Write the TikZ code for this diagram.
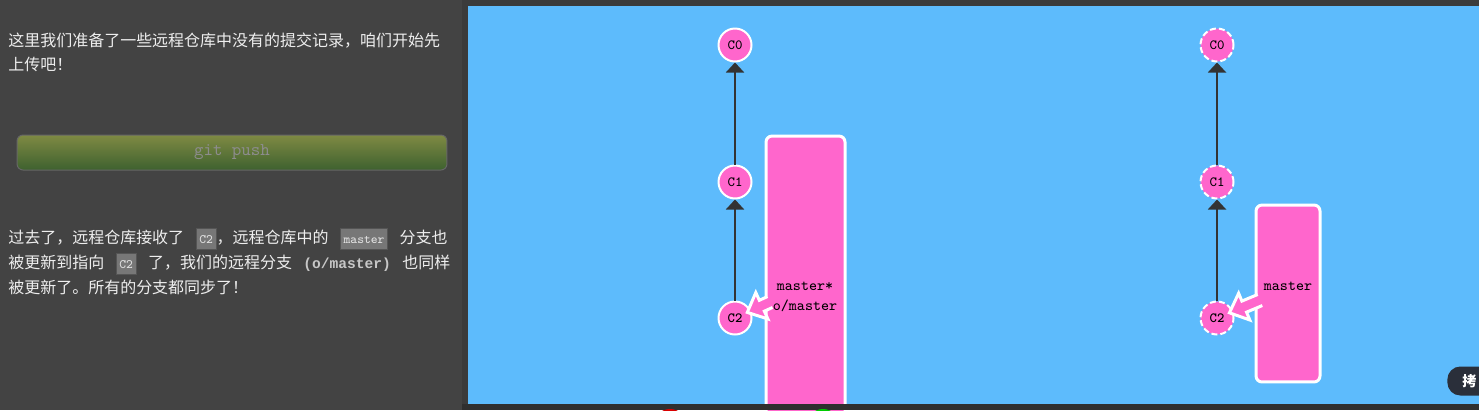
\documentclass[tikz,border=0pt]{standalone}
\usepackage{fontspec}
\newfontfamily\cjk{Noto Sans CJK SC}
\newfontfamily\monob{Liberation Mono}
\usetikzlibrary{arrows.meta,calc,positioning}

\definecolor{pagebg}{HTML}{434343}
\definecolor{shadowbg}{HTML}{3B3B3B}
\definecolor{stripbg}{HTML}{2F2F2F}
\definecolor{panelblue}{HTML}{5DBBFC}
\definecolor{gitpink}{HTML}{FF66CC}
\definecolor{linkgray}{HTML}{333333}
\definecolor{textlight}{HTML}{EEEEEE}
\definecolor{codebg}{HTML}{777777}
\definecolor{codeedge}{HTML}{555555}
\definecolor{codefg}{HTML}{E2E2E2}
\definecolor{btntop}{HTML}{7F8A43}
\definecolor{btnbottom}{HTML}{3E612F}
\definecolor{btntext}{HTML}{8C8C8C}
\definecolor{copybg}{HTML}{2A2F3A}

\newcommand{\gap}{\hspace{6.5pt}}
\newcommand{\code}[1]{{\setlength{\fboxsep}{1.6pt}\setlength{\fboxrule}{0.5pt}%
  \fcolorbox{codeedge}{codebg}{\rule[-2pt]{0pt}{8.5pt}\textcolor{codefg}{\ttfamily\fontsize{7.3pt}{8pt}\selectfont #1}}}}
% fat pink pointer from a branch box to a commit
\newcommand{\branchptr}[2]{%
  \coordinate (pt) at ($(#2)!0.27cm!(#1)$);
  \coordinate (pb) at ($(pt)!0.32cm!(#1)$);
  \filldraw[ptrshape] ($(#1)!0.12cm!90:(pt)$) -- ($(pb)!0.12cm!90:(pt)$)
    -- ($(pb)!0.29cm!90:(pt)$) -- (pt) -- ($(pb)!0.29cm!-90:(pt)$)
    -- ($(pb)!0.12cm!-90:(pt)$) -- ($(#1)!0.12cm!-90:(pt)$);
}

\begin{document}
\begin{tikzpicture}[x=0.02cm, y=-0.02cm,
    txt/.style={anchor=base west, inner sep=0pt, text=textlight,
      font=\cjk\fontsize{9.1pt}{11pt}\selectfont},
    commit/.style={circle, fill=gitpink, draw=white, line width=0.04cm,
      minimum size=0.66cm, inner sep=0pt, text=black,
      font=\ttfamily\fontsize{8pt}{9pt}\selectfont},
    ghost/.style={commit, dash pattern=on 0.12cm off 0.06cm},
    parentlink/.style={draw=linkgray, line width=0.04cm,
      -{Triangle[width=0.36cm,length=0.2cm]}},
    branchbox/.style={rectangle, rounded corners=0.12cm, fill=gitpink,
      draw=white, line width=0.06cm, inner sep=0pt},
    branchlabel/.style={inner sep=0pt, text=black,
      font=\ttfamily\fontsize{8.7pt}{10pt}\selectfont},
    ptrshape/.style={fill=gitpink, draw=white, line width=0.06cm,
      line join=miter},
    gobutton/.style={rectangle, rounded corners=0.12cm, top color=btntop,
      bottom color=btnbottom, draw=black!60, line width=0.02cm,
      minimum width=8.6cm, minimum height=0.7cm, text=btntext,
      font=\ttfamily\fontsize{10.3pt}{11pt}\selectfont},
    copybtn/.style={rectangle, rounded corners=0.26cm, fill=copybg,
      anchor=west, minimum height=0.58cm, text width=1.2cm, align=left,
      inner xsep=0.3cm, text=white, font=\cjk\bfseries\fontsize{8pt}{9pt}\selectfont}]

  \useasboundingbox (0,0) rectangle (1479,410);
  \fill[pagebg] (0,0) rectangle (1479,410);
  \fill[shadowbg] (462,0) rectangle (1479,410);
  \fill[panelblue] (468,6) rectangle (1479,404);

  % left column
  \node[txt] (intro1) at (8,46) {这里我们准备了一些远程仓库中没有的提交记录，咱们开始先};
  \node[txt] (intro2) at (8,70) {上传吧！};
  \node[gobutton] (push) at (232,152.5) {git push};
  \node[txt] (after1) at (8,243)
    {过去了，远程仓库接收了\gap\code{C2}，远程仓库中的\gap\code{master}\gap 分支也};
  \node[txt] (after2) at (8,268)
    {被更新到指向\gap\code{C2}\gap 了，我们的远程分支\gap{\monob\bfseries\fontsize{8.3pt}{10pt}\selectfont\color{black!22}(o/master)}\gap 也同样};
  \node[txt] (after3) at (8,293) {被更新了。所有的分支都同步了！};

  % local repository
  \node[commit] (c0) at (735,45) {C0};
  \node[commit] (c1) at (735,182) {C1};
  \node[commit, font=\ttfamily\bfseries\fontsize{8pt}{9pt}\selectfont] (c2) at (735,318) {C2};
  \draw[parentlink] (c1) -- (c0);
  \draw[parentlink] (c2) -- (c1);
  \node[branchbox, minimum width=1.58cm, minimum height=5.68cm] (lbox) at (805.5,278) {};
  \node[branchlabel] (lmaster) at (805,286) {master*};
  \node[branchlabel] (lorigin) at (805,306) {o/master};
  \coordinate (lfrom) at (770,302);
  \branchptr{lfrom}{c2}

  % remote repository
  \node[ghost] (r0) at (1217,45) {C0};
  \node[ghost] (r1) at (1217,182) {C1};
  \node[ghost, font=\ttfamily\bfseries\fontsize{8pt}{9pt}\selectfont] (r2) at (1217,318) {C2};
  \draw[parentlink] (r1) -- (r0);
  \draw[parentlink] (r2) -- (r1);
  \node[branchbox, minimum width=1.28cm, minimum height=3.54cm] (rbox) at (1288,293.5) {};
  \node[branchlabel] (rmaster) at (1288,286) {master};
  \coordinate (rfrom) at (1260,300);
  \branchptr{rfrom}{r2}

  % bottom strip
  \fill[stripbg] (462,404) rectangle (1479,410);
  \fill[red!85!black] (670,426) circle (0.34cm);
  \fill[green!80!black] (823,426) circle (0.34cm);
  \node[copybtn] (copy) at (1447,381) {拷};
\end{tikzpicture}
\end{document}
